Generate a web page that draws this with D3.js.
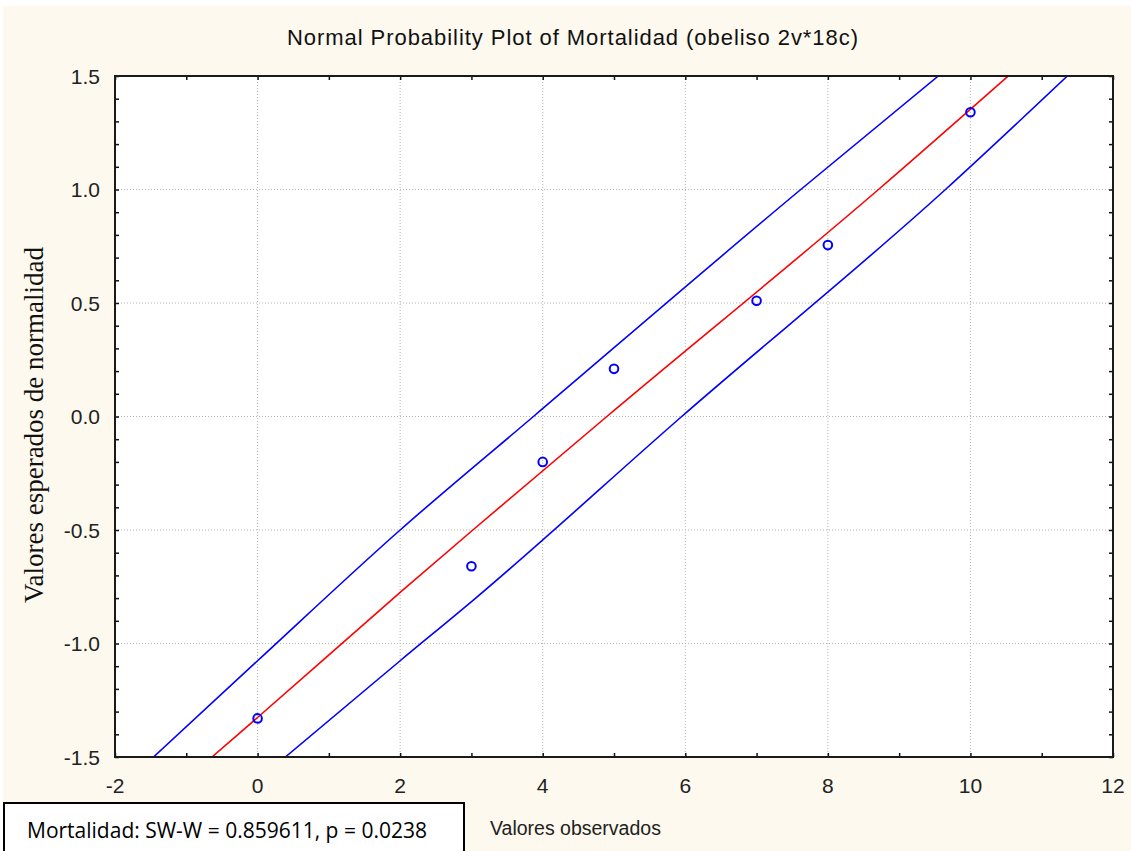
<!DOCTYPE html>
<html>
<head>
<meta charset="utf-8">
<script src="https://cdn.jsdelivr.net/npm/d3@7"></script>
<style>
  body { margin: 0; background: #fff; }
  svg { display: block; }
</style>
</head>
<body>
<div id="body"></div>
<script>
// observed values and their expected normal values
var observed = [0, 3, 4, 5, 7, 8, 10];
var expected = [-1.33, -0.66, -0.20, 0.21, 0.51, 0.755, 1.34];

// fitted line (red) and the two bands (blue)
var fitX = [-0.64, 0, 2, 3.02, 4.9, 8.71, 10.53];
var fitY = [-1.5, -1.326, -0.775, -0.5, 0, 1.0, 1.5];
var upperX = [-1.46, 0, 2, 3.87, 7.62, 9.55];
var upperY = [-1.5, -1.076, -0.5, 0, 1.0, 1.5];
var lowerX = [0.39, 2, 3.06, 5.95, 9.65, 11.36];
var lowerY = [-1.5, -1.076, -0.80, 0, 1.0, 1.5];

var xTicks = [-2, 0, 2, 4, 6, 8, 10, 12];
var yTicks = [-1.5, -1.0, -0.5, 0.0, 0.5, 1.0, 1.5];
var xGrid = [0, 2, 4, 6, 8, 10];
var yGrid = [-1.0, -0.5, 0.0, 0.5, 1.0];

var title = "Normal Probability Plot of Mortalidad (obeliso 2v*18c)";
var xLabel = "Valores observados";
var yLabel = "Valores esperados de normalidad";
var statText = "Mortalidad: SW-W = 0.859611, p = 0.0238";

const W = 1131, H = 851;
const margin = {top: 76, right: 18, bottom: 94, left: 115};
var width = W - margin.left - margin.right,
    height = H - margin.top - margin.bottom;

var svg = d3.select("#body").append("svg")
    .attr("width", W).attr("height", H);

// cream page background
svg.append("rect").attr("x", 3).attr("y", 6)
    .attr("width", W - 3).attr("height", H - 6)
    .attr("fill", "#fdf9ee");

var g = svg.append("g").attr("transform", "translate(" + margin.left + "," + margin.top + ")");

var x = d3.scaleLinear().domain([-2, 12]).range([0, width]);
var y = d3.scaleLinear().domain([-1.5, 1.5]).range([height, 0]);

g.append("rect").attr("width", width).attr("height", height).attr("fill", "#fff");

g.append("clipPath").attr("id", "clip")
  .append("rect").attr("width", width).attr("height", height);

// dotted grid
g.selectAll(".vgrid").data(xGrid).enter().append("line")
    .attr("class", "vgrid")
    .attr("x1", d => x(d)).attr("x2", d => x(d))
    .attr("y1", 0).attr("y2", height)
    .attr("stroke", "#b4b4b4").attr("stroke-dasharray", "1,2");
g.selectAll(".hgrid").data(yGrid).enter().append("line")
    .attr("class", "hgrid")
    .attr("y1", d => y(d)).attr("y2", d => y(d))
    .attr("x1", 0).attr("x2", width)
    .attr("stroke", "#b4b4b4").attr("stroke-dasharray", "1,2");

// lines
var line = d3.line().x(d => x(d[0])).y(d => y(d[1])).curve(d3.curveMonotoneX);
var plot = g.append("g").attr("clip-path", "url(#clip)");
plot.append("path").datum(d3.zip(upperX, upperY))
    .attr("d", line).attr("fill", "none").attr("stroke", "#0000ff").attr("stroke-width", 1.6);
plot.append("path").datum(d3.zip(lowerX, lowerY))
    .attr("d", line).attr("fill", "none").attr("stroke", "#0000ff").attr("stroke-width", 1.6);
plot.append("path").datum(d3.zip(fitX, fitY))
    .attr("d", line).attr("fill", "none").attr("stroke", "#ff0000").attr("stroke-width", 1.6);

// points
g.selectAll("circle").data(d3.zip(observed, expected)).enter().append("circle")
    .attr("cx", d => x(d[0])).attr("cy", d => y(d[1])).attr("r", 4.3)
    .attr("fill", "none").attr("stroke", "#0000ff").attr("stroke-width", 2);

// axes: ticks point inward on all four sides
var xMinor = d3.range(-2, 12.01, 1), yMinor = d3.range(-1.5, 1.51, 0.1);
function styleAxis(sel) {
  sel.select(".domain").remove();
  sel.selectAll(".tick line").attr("stroke", "#111").attr("stroke-width", 1.5);
}
g.append("g").attr("transform", "translate(0," + height + ")")
  .call(d3.axisBottom(x).tickValues(xMinor).tickSize(-4).tickFormat(""))
  .call(styleAxis);
g.append("g")
  .call(d3.axisTop(x).tickValues(xMinor).tickSize(-4).tickFormat(""))
  .call(styleAxis);
g.append("g")
  .call(d3.axisLeft(y).tickValues(yMinor).tickSize(-4).tickFormat(""))
  .call(styleAxis);
g.append("g").attr("transform", "translate(" + width + ",0)")
  .call(d3.axisRight(y).tickValues(yMinor).tickSize(-4).tickFormat(""))
  .call(styleAxis);

// tick labels (plain hyphen for the minus sign)
var fmtX = d => d3.format("d")(d).replace("\u2212", "-");
var fmtY = d => d3.format(".1f")(d).replace("\u2212", "-");
g.selectAll(".xlab").data(xTicks).enter().append("text")
    .attr("x", d => x(d)).attr("y", height + 36)
    .attr("text-anchor", "middle")
    .style("font-family", "'Liberation Sans', Arial, sans-serif").style("font-size", "21px")
    .attr("fill", "#222")
    .text(fmtX);
g.selectAll(".ylab").data(yTicks).enter().append("text")
    .attr("x", -15).attr("y", d => y(d) + 7.5)
    .attr("text-anchor", "end")
    .style("font-family", "'Liberation Sans', Arial, sans-serif").style("font-size", "21px")
    .attr("fill", "#222")
    .text(fmtY);

// plot frame
g.append("rect").attr("width", width).attr("height", height)
    .attr("fill", "none").attr("stroke", "#1a1a1a").attr("stroke-width", 2);

// title and axis titles
svg.append("text").attr("x", 287).attr("y", 45)
    .attr("textLength", 571).attr("lengthAdjust", "spacing")
    .style("font-family", "'Liberation Sans', Arial, sans-serif").style("font-size", "22px")
    .attr("fill", "#111").text(title);
svg.append("text").attr("x", 490).attr("y", 835)
    .style("font-family", "'Liberation Sans', Arial, sans-serif").style("font-size", "19.5px")
    .attr("fill", "#222").text(xLabel);
svg.append("text")
    .attr("transform", "translate(43,425) rotate(-90)")
    .attr("text-anchor", "middle")
    .style("font-family", "'Liberation Serif', 'Times New Roman', serif").style("font-size", "27px")
    .attr("fill", "#111").text(yLabel);

// statistics box
svg.append("rect").attr("x", 4).attr("y", 803).attr("width", 460).attr("height", 60)
    .attr("fill", "#fff").attr("stroke", "#000").attr("stroke-width", 2);
svg.append("text").attr("x", 27).attr("y", 838)
    .style("font-family", "'Open Sans', 'Noto Sans', sans-serif").style("font-size", "21px")
    .attr("fill", "#000").text(statText);
</script>
</body>
</html>
